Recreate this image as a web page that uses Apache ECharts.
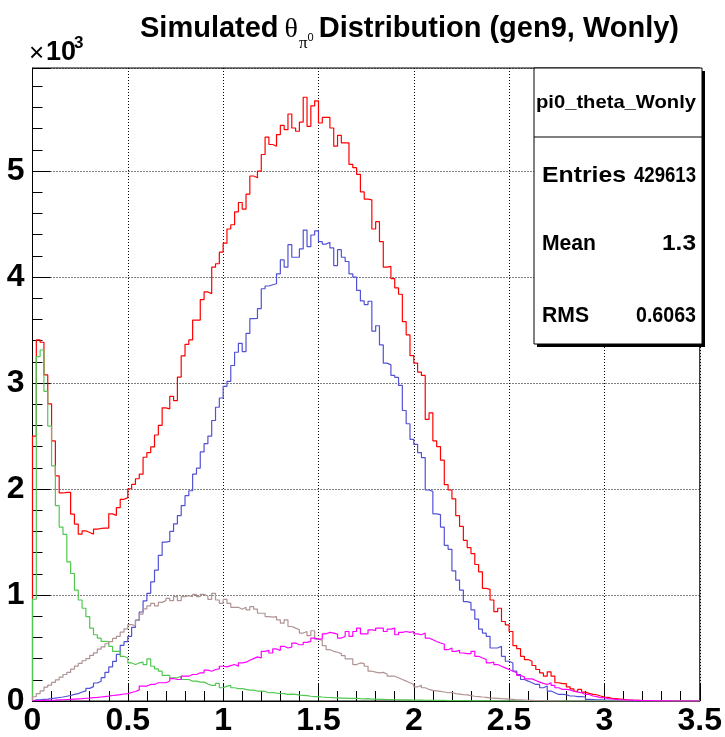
<!DOCTYPE html>
<html>
<head>
<meta charset="utf-8">
<script src="https://cdn.jsdelivr.net/npm/echarts@6/dist/echarts.min.js"></script>
<style>
html,body{margin:0;padding:0;background:#fff;}
#c{width:725px;height:737px;}
</style>
</head>
<body>
<div id="c"></div>
<script>
// ---- data (bin contents, 175 bins of width 0.02 from 0 to 3.5) ----
const binWidth = 0.02;
const xTicks = [0, 0.5, 1, 1.5, 2, 2.5, 3, 3.5];
const yTicks = [0, 1000, 2000, 3000, 4000, 5000];

const totalRed = [
2500,3407,3385,3078,2804,2454,2125,1963,1969,1969,1763,1669,1575,1606,1590,1575,1622,1628,1631,1631,
1766,1750,1825,1903,1919,2003,2044,2097,2140,2300,2344,2397,2510,2600,2766,2757,2875,2835,3057,3257,
3366,3407,3594,3594,3788,3860,3844,4094,4126,4235,4320,4454,4494,4616,4704,4641,4782,4954,4938,5000,
5157,5320,5251,5235,5345,5432,5391,5539,5407,5376,5463,5697,5423,5616,5663,5454,5507,5507,5407,5235,
5338,5267,5267,5063,5032,4970,4804,4735,4729,4454,4523,4335,4094,4101,3985,3898,3838,3579,3454,3259,
3188,3104,3072,2657,2719,2454,2400,2272,2041,1991,1907,1750,1647,1516,1447,1391,1288,1219,1063,1053,
953,844,875,750,719,656,522,494,422,391,375,335,297,265,234,275,234,172,164,164,
134,115,90,109,84,72,62,59,47,37,34,25,22,19,16,12,9,6,6,4,
3,3,2,2,1,1,0,0,0,0,0,0,0,0,0];

const blueSig = [
10,12,15,18,22,28,33,38,45,52,62,70,85,95,119,136,170,186,220,271,
322,373,440,525,560,610,695,763,840,944,1016,1125,1234,1375,1500,1506,1600,1672,1750,1844,
1937,1984,2141,2197,2350,2428,2500,2647,2772,2859,2969,3016,3166,3291,3375,3297,3469,3609,3610,3703,
3890,3916,3928,3937,4031,4162,4094,4306,4187,4187,4266,4444,4287,4397,4437,4334,4312,4328,4275,4109,
4259,4187,4147,4031,4000,3875,3775,3741,3772,3490,3541,3360,3188,3172,3072,3053,2978,2741,2616,2469,
2422,2344,2297,1991,1978,1766,1759,1641,1469,1431,1228,1141,1047,938,928,859,772,678,641,609,
500,500,516,422,375,359,281,250,203,188,172,156,156,125,141,94,78,62,62,60,
47,47,41,41,38,16,14,12,10,8,6,5,4,3,2,2,1,1,0,0,
0,0,0,0,0,0,0,0,0,0,0,0,0,0,0];

const greenLow = [
960,3250,3312,2922,2594,2219,1844,1641,1572,1312,1203,1047,953,875,797,687,625,594,562,560,
516,469,470,422,406,359,344,359,366,344,397,328,303,281,241,241,219,219,234,203,
203,188,188,178,178,160,147,147,166,125,140,147,125,116,116,109,103,103,94,94,
90,78,80,75,72,70,62,65,62,55,53,50,45,41,42,38,35,33,31,30,
28,27,25,24,26,22,20,22,18,17,16,15,14,14,12,12,11,10,10,9,
8,8,7,7,6,6,5,5,4,4,4,3,3,3,2,2,2,2,1,1,
1,0,0,0,0,0,0,0,0,0,0,0,0,0,0,0,0,0,0,0,
0,0,0,0,0,0,0,0,0,0,0,0,0,0,0,0,0,0,0,0,
0,0,0,0,0,0,0,0,0,0,0,0,0,0,0];

const brownMid = [
40,70,95,130,150,175,200,225,250,270,300,330,355,380,400,430,455,490,510,540,
560,590,610,650,680,720,710,760,820,870,897,922,897,931,947,969,947,984,947,984,
994,984,1006,984,1006,991,959,1016,953,922,959,922,884,884,866,884,859,891,866,828,
828,797,791,797,766,734,766,703,688,672,641,656,616,663,584,572,522,484,469,460,
447,428,397,397,344,359,353,328,281,272,266,270,255,234,234,219,203,188,172,156,
134,147,125,109,100,95,90,85,78,80,70,65,60,58,50,45,42,38,35,30,
28,25,22,20,18,15,12,10,8,6,5,4,3,3,2,2,1,1,0,0,
0,0,0,0,0,0,0,0,0,0,0,0,0,0,0,0,0,0,0,0,
0,0,0,0,0,0,0,0,0,0,0,0,0,0,0];

const magentaHigh = [
3,4,5,6,7,8,10,12,14,16,18,20,22,26,28,32,34,38,42,46,
52,56,60,66,70,80,90,105,141,141,156,156,172,172,172,188,212,203,203,234,
234,250,250,266,266,291,281,297,303,328,322,334,344,328,359,366,384,400,416,406,
469,478,453,491,478,516,500,509,547,531,531,553,563,594,584,584,634,647,641,631,
594,609,656,609,656,688,634,634,672,666,688,688,656,678,688,625,647,656,647,656,
634,625,641,594,578,562,547,538,484,500,469,478,453,447,447,469,422,406,391,359,
366,344,328,313,297,281,266,241,228,209,209,194,178,166,156,172,147,125,109,110,
105,92,84,78,62,62,47,41,31,31,22,19,16,12,12,9,9,6,6,4,
3,3,2,2,1,1,1,0,0,0,0,0,0,0,0];

const seriesNames = ['total', 'signal', 'low', 'mid', 'high'];
const seriesColors = ['#ff0000', '#5252d6', '#52c852', '#b09494', '#ff00ff'];

const statsTitle = 'pi0_theta_Wonly';
const statsRows = [['Entries', '429613'], ['Mean', '1.3'], ['RMS', '0.6063']];

// ---- build step-histogram polylines from bin edges ----
function hist(vals) {
  const d = [[0, 0]];
  vals.forEach((v, i) => d.push([+(i * binWidth).toFixed(4), v]));
  d.push([3.5, vals[vals.length - 1]]);
  d.push([3.5, 0]);
  return d;
}
const allVals = [totalRed, blueSig, greenLow, brownMid, magentaHigh];

const chart = echarts.init(document.getElementById('c'), null, {renderer: 'canvas'});

// text measurement for layout of free text
const mctx = document.createElement('canvas').getContext('2d');
function tw(t, f) { mctx.font = f; return mctx.measureText(t).width; }
function fitText(text, font, x, y, width, align, z) {
  const s = width / tw(text, font);
  return {type: 'text', x: x, y: y, scaleX: s, z: z || 12,
    style: {text: text, font: font, fill: '#000', align: align, verticalAlign: 'middle'}};
}
function plainText(text, font, x, y) {
  return {type: 'text', x: x, y: y, style: {text: text, font: font, fill: '#000', verticalAlign: 'middle'}};
}

const fBold = 'bold 29px "Liberation Sans", Arial, sans-serif';
const fSym = '28px "Liberation Serif", serif';
const fSub = '17px "Liberation Serif", serif';
const fSup = '11px "Liberation Sans", Arial, sans-serif';
const titleY = 29;
let tx = 140;
const gTitle = [];
gTitle.push(plainText('Simulated', fBold, tx, titleY));
tx += tw('Simulated', fBold) + 6;
gTitle.push(plainText('\u03B8', fSym, tx, titleY + 1));
tx += tw('\u03B8', fSym) + 1;
gTitle.push(plainText('\u03C0', fSub, tx, titleY + 15));
tx += tw('\u03C0', fSub);
gTitle.push(plainText('0', fSup, tx, titleY + 9));
tx += tw('0', fSup) + 5;
gTitle.push(plainText('Distribution (gen9, Wonly)', fBold, tx, titleY));

const sFont = 'bold 22px "Liberation Sans", Arial, sans-serif';
const sb = {x: 534, y: 68, w: 168, h: 276};
const rowY = [176, 244, 316];
const leftW = [84, 54, 47];
const rightW = [62, 34, 60];
const gStats = [
  {type: 'rect', shape: {x: sb.x + 3, y: sb.y + 3, width: sb.w, height: sb.h}, style: {fill: '#000'}, z: 10},
  {type: 'rect', shape: {x: sb.x, y: sb.y, width: sb.w, height: sb.h}, style: {fill: '#fff', stroke: '#000', lineWidth: 1}, z: 11},
  {type: 'line', shape: {x1: sb.x, y1: 137, x2: sb.x + sb.w, y2: 137}, style: {stroke: '#000', lineWidth: 1}, z: 12},
  fitText(statsTitle, 'bold 19px "Liberation Sans", Arial, sans-serif', 536, 103, 160, 'left')
];
statsRows.forEach((r, i) => {
  gStats.push(fitText(r[0], sFont, 542, rowY[i], leftW[i], 'left'));
  gStats.push(fitText(r[1], sFont, 696, rowY[i], rightW[i], 'right'));
});

const gExp = [
  plainText('\u00D7', '26px "Liberation Sans", Arial, sans-serif', 29, 54),
  plainText('10', 'bold 27px "Liberation Sans", Arial, sans-serif', 46, 53),
  plainText('3', 'bold 17px "Liberation Sans", Arial, sans-serif', 74, 43)
];

const labelFont = {fontFamily: '"Liberation Sans", Arial, sans-serif', fontWeight: 'bold', fontSize: 32, color: '#000'};
const gridDots = {color: '#000', width: 1, type: [1, 2]};

chart.setOption({
  animation: false,
  backgroundColor: '#fff',
  grid: {left: 32.5, right: 24, top: 68, bottom: 32, show: true, borderColor: '#000', borderWidth: 1, backgroundColor: 'transparent'},
  xAxis: {
    type: 'value', min: xTicks[0], max: xTicks[xTicks.length - 1], interval: 0.5,
    axisLine: {show: true, onZero: false, lineStyle: {color: '#000', width: 1}},
    axisTick: {show: true, inside: true, length: 18, lineStyle: {color: '#000', width: 1}},
    minorTick: {show: true, splitNumber: 5, length: 10, lineStyle: {color: '#000', width: 1}},
    splitLine: {show: true, lineStyle: gridDots},
    axisLabel: Object.assign({margin: 4}, labelFont)
  },
  yAxis: {
    type: 'value', min: 0, max: 5973, interval: 1000,
    axisLine: {show: true, onZero: false, lineStyle: {color: '#000', width: 1}},
    axisTick: {show: true, inside: true, length: 18, lineStyle: {color: '#000', width: 1}},
    minorTick: {show: true, splitNumber: 5, length: 10, lineStyle: {color: '#000', width: 1}},
    splitLine: {show: true, lineStyle: gridDots},
    axisLabel: Object.assign({margin: 8, showMaxLabel: false, formatter: v => yTicks.indexOf(v) >= 0 ? String(v / 1000) : ''}, labelFont)
  },
  series: allVals.map((vals, k) => ({
    name: seriesNames[k],
    type: 'line', step: 'end', showSymbol: false, symbol: 'none',
    data: hist(vals),
    lineStyle: {color: seriesColors[k], width: 1.2},
    itemStyle: {color: seriesColors[k]},
    z: 2 + k,
    silent: true
  })),
  graphic: gTitle.concat(gExp).concat(gStats)
});
</script>
</body>
</html>
